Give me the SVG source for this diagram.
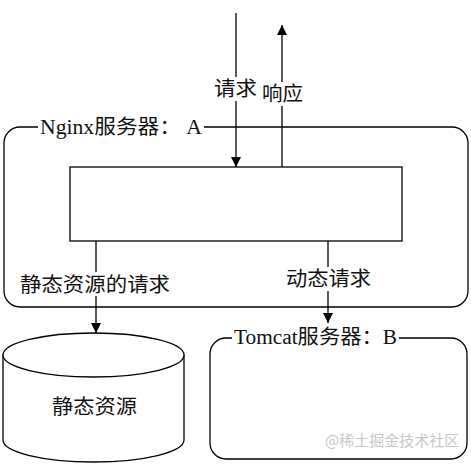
<svg xmlns="http://www.w3.org/2000/svg" width="471" height="465" viewBox="0 0 471 465">
<style>
.ln{fill:none;stroke:#000;stroke-width:1.3}
.bx{fill:#fff;stroke:#000;stroke-width:1.3}
.t{font-family:"Liberation Serif","Noto Sans CJK SC",serif;font-size:20px;fill:#111}
.bg{fill:#fff}
.wm{font-family:"Noto Sans CJK SC",sans-serif;font-size:15px;fill:#c8c8c8}
</style>
<defs>
<marker id="ah" markerWidth="10" markerHeight="10" refX="10" refY="5" orient="auto" markerUnits="userSpaceOnUse">
<path d="M0,0 L10,5 L0,10 Z" fill="#000"/>
</marker>
</defs>
<rect width="471" height="465" fill="#fff"/>
<g id="nginx">
<rect class="bx" x="4" y="127" width="464" height="180" rx="16" ry="16"/>
<rect class="bg" x="38" y="116" width="166" height="22"/>
<text class="t" x="40" y="134" textLength="162" lengthAdjust="spacingAndGlyphs">Nginx服务器： A</text>
</g>
<g id="proc">
<rect class="bx" x="70" y="167" width="332" height="74"/>
</g>
<g id="static">
<path class="bx" d="M3,355 L3,440 A90.5,22 0 0 0 184,440 L184,355"/>
<ellipse class="bx" cx="93.5" cy="355" rx="90.5" ry="22"/>
<text class="t" x="52" y="414" textLength="85" lengthAdjust="spacingAndGlyphs">静态资源</text>
</g>
<g id="tomcat">
<rect class="bx" x="210" y="338" width="257" height="121" rx="16" ry="16"/>
<rect class="bg" x="232" y="326" width="167" height="22"/>
<text class="t" x="234" y="344" textLength="163" lengthAdjust="spacingAndGlyphs">Tomcat服务器：B</text>
</g>
<g id="connectors">
<line class="ln" x1="236" y1="13" x2="236" y2="167" marker-end="url(#ah)"/>
<line class="ln" x1="282" y1="167" x2="282" y2="25" marker-end="url(#ah)"/>
<line class="ln" x1="96" y1="241" x2="96" y2="333" marker-end="url(#ah)"/>
<line class="ln" x1="328" y1="241" x2="328" y2="323" marker-end="url(#ah)"/>
<rect class="bg" x="213" y="77" width="45" height="24"/>
<text class="t" x="214" y="96" textLength="43" lengthAdjust="spacingAndGlyphs">请求</text>
<rect class="bg" x="261" y="82" width="43" height="24"/>
<text class="t" x="262" y="101" textLength="41" lengthAdjust="spacingAndGlyphs">响应</text>
<rect class="bg" x="18" y="272" width="154" height="24"/>
<text class="t" x="20" y="292" textLength="150" lengthAdjust="spacingAndGlyphs">静态资源的请求</text>
<rect class="bg" x="284" y="267" width="89" height="24"/>
<text class="t" x="286" y="286" textLength="85" lengthAdjust="spacingAndGlyphs">动态请求</text>
</g>
<text class="wm" x="325" y="446">@稀土掘金技术社区</text>
</svg>
